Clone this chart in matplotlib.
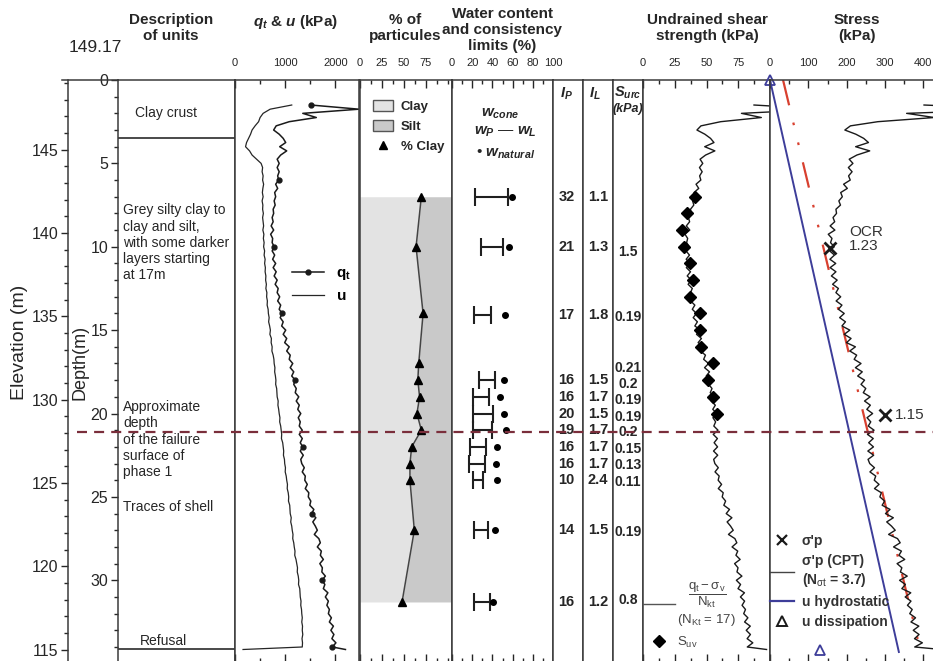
import numpy as np
import matplotlib.pyplot as plt
from matplotlib import transforms
from matplotlib.lines import Line2D
from matplotlib.patches import Patch
from matplotlib.ticker import MultipleLocator, FixedLocator

plt.rcParams['font.family'] = ['Liberation Sans', 'DejaVu Sans']
plt.rcParams['mathtext.fontset'] = 'custom'
plt.rcParams['mathtext.rm'] = 'Liberation Sans'
plt.rcParams['mathtext.it'] = 'Liberation Sans:italic:bold'
plt.rcParams['mathtext.bf'] = 'Liberation Sans:bold'

INK = '#262626'
SPINE = '#3a3a3a'
CLAY_C = '#e3e3e3'
SILT_C = '#c9c9c9'
BLUE = '#3d3d99'
RED = '#d8402f'
DASH_RED = '#7a2e3b'

TOP_ELEVATION = 149.17
DEPTH_MAX = 34.9
CRUST_BASE = 3.5
FAILURE_DEPTH = 21.1
REFUSAL_DEPTH = 34.15
UNIT_WEIGHT = 16.0   # kN/m3, total vertical stress
N_KT = 17
N_SIGMA_T = 3.7

# CPTu sounding, one reading every 0.25 m from 1.5 m, last one at refusal
cpt_depth = np.append(np.arange(1.5, 34.01, 0.25), REFUSAL_DEPTH)
qt = [1510, 2470,
      1350, 1620, 1080, 820,
      770, 880, 960, 1010,
      890, 1030, 910, 840,
      880, 840, 880, 850,
      870, 810, 850, 790,
      810, 780, 800, 760,
      770, 740, 760, 720,
      770, 710, 750, 740,
      780, 740, 790, 750,
      810, 760, 820, 780,
      840, 800, 860, 840,
      890, 850, 910, 880,
      940, 900, 960, 930,
      1010, 960, 1030, 990,
      1080, 1030, 1100, 1080,
      1150, 1100, 1170, 1130,
      1200, 1170, 1220, 1200,
      1270, 1220, 1280, 1250,
      1310, 1260, 1300, 1280,
      1340, 1280, 1340, 1300,
      1350, 1300, 1360, 1310,
      1330, 1380, 1340, 1400,
      1390, 1440, 1400, 1470,
      1460, 1510, 1490, 1570,
      1530, 1610, 1550, 1600,
      1640, 1580, 1670, 1700,
      1640, 1720, 1700, 1760,
      1690, 1740, 1730, 1800,
      1730, 1790, 1760, 1850,
      1800, 1860, 1830, 1880,
      1860, 1920, 1880, 1960,
      1910, 1970, 1930, 2010,
      1940, 2200]
u2 = [1130, 700,
      560, 500, 470, 400,
      340, 310, 270, 230,
      210, 290, 340, 430,
      520, 550, 540, 560,
      550, 570, 555, 545,
      560, 540, 555, 550,
      565, 550, 560, 570,
      555, 575, 565, 580,
      570, 590, 580, 600,
      590, 605, 600, 615,
      610, 625, 615, 635,
      630, 645, 640, 660,
      665, 680, 670, 690,
      705, 695, 725, 720,
      740, 735, 760, 775,
      780, 795, 790, 805,
      815, 810, 830, 835,
      840, 860, 855, 870,
      880, 895, 890, 910,
      920, 930, 925, 950,
      960, 970, 965, 985,
      990, 1005, 1000, 1020,
      1030, 1045, 1040, 1060,
      1070, 1065, 1090, 1095,
      1100, 1120, 1110, 1130,
      1140, 1155, 1150, 1170,
      1180, 1195, 1190, 1215,
      1230, 1245, 1240, 1260,
      1270, 1265, 1290, 1295,
      1300, 1315, 1310, 1325,
      1330, 1340, 1330, 1345,
      1340, 1350, 1335, 1345,
      1340, 160]
qt_dot_depths = [1.5, 6, 10, 14, 18, 22, 26, 30, 34]

# grain size
clay_depth = [7.0, 10.0, 14.0, 17.0, 18.0, 19.0, 20.0, 21.0, 22.0, 23.0, 24.0, 27.0, 31.3]
clay_pct = [70, 64, 72, 67, 66, 68, 65, 70, 59, 57, 57, 62, 48]

# Atterberg limits and natural water content
wc_depth = [7.0, 10.0, 14.1, 18.0, 19.0, 20.0, 21.0, 22.0, 23.0, 24.0, 27.0, 31.3]
w_p = [23, 29, 22, 27, 21, 21, 21, 18, 17, 21, 22, 22]
w_l = [55, 50, 39, 43, 37, 41, 40, 34, 33, 31, 36, 38]
w_nat = [59, 56, 52, 51, 48, 51, 53, 45, 44, 45, 43, 41]
ip = [32, 21, 17, 16, 16, 20, 19, 16, 16, 10, 14, 16]
il = [1.1, 1.3, 1.8, 1.5, 1.7, 1.5, 1.7, 1.7, 1.7, 2.4, 1.5, 1.2]

surc_depth = [10.3, 14.2, 17.3, 18.2, 19.2, 20.2, 21.1, 22.1, 23.1, 24.1, 27.1, 31.2]
surc = [1.5, 0.19, 0.21, 0.2, 0.19, 0.19, 0.2, 0.15, 0.13, 0.11, 0.19, 0.8]

# field vane
vane_depth = [7, 8, 9, 10, 11, 12, 13, 14, 15, 16, 17, 18, 19, 20]
su_vane = [41, 35, 31, 32, 37, 39, 37, 45, 45, 46, 55, 51, 55, 58]

# oedometer preconsolidation pressure and OCR
oed_depth = [10.05, 20.1]
sigma_p = [156, 299]
ocr = [1.23, 1.15]

hydro_depth = [0, 34.3]
hydro_u = [0, 336]
trend_depth = [0, 34.0]
trend_sigma_p = [34, 390]
diss_depth = [0, 34.2]
diss_u = [0, 130]

qt_arr = np.array(qt, dtype=float)
net_qt = qt_arr - UNIT_WEIGHT * cpt_depth
su_cpt = net_qt / N_KT
sigma_p_cpt = net_qt / N_SIGMA_T

W, H = 933, 661
TOP_PX, BOTTOM_PX = 80, 662
fig = plt.figure(figsize=(W / 100, H / 100), dpi=100)


def add_panel(x0, x1, xlim=None, major=None, minor=None):
    ax = fig.add_axes([x0 / W, 1 - BOTTOM_PX / H, (x1 - x0) / W, (BOTTOM_PX - TOP_PX) / H])
    ax.set_ylim(DEPTH_MAX, 0)
    ax.tick_params(axis='y', which='both', left=False, right=False, labelleft=False)
    for s in ax.spines.values():
        s.set_color(SPINE)
        s.set_linewidth(1.1)
    if xlim is None:
        ax.set_xticks([])
        return ax
    ax.set_xlim(*xlim)
    ax.xaxis.set_major_locator(FixedLocator(major))
    ax.xaxis.set_minor_locator(FixedLocator(minor))
    ax.xaxis.set_ticks_position('both')
    ax.tick_params(axis='x', which='both', direction='in', labeltop=True, labelbottom=False,
                   labelsize=8, pad=9, colors=INK, width=1)
    ax.tick_params(axis='x', which='major', length=6)
    ax.tick_params(axis='x', which='minor', length=3)
    return ax


def yblend(ax):
    return transforms.blended_transform_factory(ax.transAxes, ax.transData)


ax_desc = add_panel(118, 235)
ax_qt = add_panel(235, 359, (0, 2470), [0, 1000, 2000], [500, 1500])
ax_gs = add_panel(360, 452, (0, 105), [0, 25, 50, 75], [12.5, 37.5, 62.5, 87.5, 100])
ax_wc = add_panel(452, 553, (0, 100), list(range(0, 101, 20)), list(range(10, 100, 20)))
ax_ip = add_panel(553, 583)
ax_il = add_panel(583, 613)
ax_surc = add_panel(613, 643)
ax_su = add_panel(643, 770, (0, 100), [0, 25, 50, 75], [12.5, 37.5, 62.5, 87.5])
ax_st = add_panel(770, 933, (0, 425), [0, 100, 200, 300, 400], [50, 150, 250, 350])
ax_st.spines['right'].set_visible(False)

# depth axis
ax_desc.yaxis.set_major_locator(MultipleLocator(5))
ax_desc.yaxis.set_minor_locator(MultipleLocator(1))
ax_desc.tick_params(axis='y', which='both', left=True, labelleft=True, direction='out',
                    colors=INK, labelsize=11.5, pad=2)
ax_desc.tick_params(axis='y', which='major', length=5, width=1)
ax_desc.tick_params(axis='y', which='minor', length=3, width=1)

# elevation axis
ax_el = ax_desc.twinx()
ax_el.set_ylim(TOP_ELEVATION - DEPTH_MAX, TOP_ELEVATION)
for side in ['right', 'top', 'bottom']:
    ax_el.spines[side].set_visible(False)
ax_el.spines['left'].set_visible(True)
ax_el.spines['left'].set_position(('outward', 36))
ax_el.spines['left'].set_color(SPINE)
ax_el.spines['left'].set_linewidth(1.1)
ax_el.yaxis.set_ticks_position('left')
ax_el.yaxis.set_major_locator(FixedLocator([115, 120, 125, 130, 135, 140, 145]))
ax_el.yaxis.set_minor_locator(MultipleLocator(1))
ax_el.tick_params(axis='y', which='both', direction='out', colors=INK, labelsize=11.5, pad=2)
ax_el.tick_params(axis='y', which='major', length=5, width=1)
ax_el.tick_params(axis='y', which='minor', length=3, width=1)

fig.add_artist(Line2D([62 / W, 118 / W], [1 - TOP_PX / H] * 2, color=SPINE, lw=1.1))
fig.text(95 / W, 1 - 47 / H, f'{TOP_ELEVATION:.2f}', ha='center', va='center',
         fontsize=12.5, color=INK)
fig.text(20 / W, 1 - 342 / H, 'Elevation (m)', rotation=90, ha='center', va='center',
         fontsize=14, color=INK)
fig.text(80 / W, 1 - 362 / H, 'Depth(m)', rotation=90, ha='center', va='center',
         fontsize=13, color=INK)

# column headers
hdr = dict(ha='center', va='center', fontsize=11, weight='bold', color=INK, linespacing=1.2)
fig.text(171 / W, 1 - 28 / H, 'Description\nof units', **hdr)
fig.text(295 / W, 1 - 22 / H, r'$q_t$ & $u$ (kPa)', **hdr)
fig.text(405 / W, 1 - 28 / H, '% of\nparticules', **hdr)
fig.text(502 / W, 1 - 30 / H, 'Water content\nand consistency\nlimits (%)', **hdr)
fig.text(707 / W, 1 - 28 / H, 'Undrained shear\nstrength (kPa)', **hdr)
fig.text(857 / W, 1 - 28 / H, 'Stress\n(kPa)', **hdr)

# description of units
dtxt = dict(fontsize=10, color=INK, transform=yblend(ax_desc), linespacing=1.2)
ax_desc.axhline(CRUST_BASE, color=SPINE, lw=1.3)
ax_desc.axhline(REFUSAL_DEPTH, color=SPINE, lw=1.3)
ax_desc.text(0.145, 1.98, 'Clay crust', va='center', **dtxt)
ax_desc.text(0.043, 7.4, 'Grey silty clay to\nclay and silt,\nwith some darker\nlayers starting\nat 17m',
             va='top', **dtxt)
ax_desc.text(0.043, 19.2, 'Approximate\ndepth\nof the failure\nsurface of\nphase 1', va='top', **dtxt)
ax_desc.text(0.043, 25.6, 'Traces of shell', va='center', **dtxt)
ax_desc.text(0.19, 33.65, 'Refusal', va='center', **dtxt)

# qt and u
dot_idx = [int(round((d - 1.5) / 0.25)) for d in qt_dot_depths]
ax_qt.plot(u2, cpt_depth, color=INK, lw=0.9)
ax_qt.plot(qt, cpt_depth, color='#1a1a1a', lw=1.1, marker='o', ms=3.5, markevery=dot_idx)
ax_qt.legend([Line2D([], [], color='#1a1a1a', lw=1.1, marker='o', ms=3.5),
              Line2D([], [], color=INK, lw=0.9)],
             [r'$\mathbf{q_t}$', r'$\mathbf{u}$'], loc='upper left', bbox_to_anchor=(0.46, 0.68),
             frameon=False, fontsize=11, handlelength=2.1, handletextpad=0.8,
             labelspacing=0.45, borderpad=0, borderaxespad=0)

# grain size
ax_gs.fill_betweenx(clay_depth, 0, clay_pct, color=CLAY_C, lw=0)
ax_gs.fill_betweenx(clay_depth, clay_pct, 105, color=SILT_C, lw=0)
ax_gs.plot(clay_pct, clay_depth, color='#444444', lw=1.1, marker='^', ms=6,
           mfc='black', mec='black')
leg = ax_gs.legend([Patch(fc=CLAY_C, ec='#555555', lw=1), Patch(fc=SILT_C, ec='#555555', lw=1),
                    Line2D([], [], ls='none', marker='^', ms=6, color='black')],
                   ['Clay', 'Silt', '% Clay'], loc='upper left', bbox_to_anchor=(0.14, 0.965),
                   frameon=False, prop=dict(size=9.5, weight='bold'), handlelength=1.5,
                   handleheight=0.9, handletextpad=0.6, labelspacing=0.5, borderpad=0,
                   borderaxespad=0)
for t in leg.get_texts():
    t.set_color(INK)

# water content
wp_arr, wl_arr = np.array(w_p, float), np.array(w_l, float)
ax_wc.errorbar((wp_arr + wl_arr) / 2, wc_depth, xerr=(wl_arr - wp_arr) / 2, fmt='none',
               ecolor='#1f1f1f', elinewidth=1.5, capsize=6.5, capthick=1.5)
ax_wc.plot(w_nat, wc_depth, 'o', color='black', ms=4)
wtxt = dict(ha='center', va='center', fontsize=11, color=INK, transform=yblend(ax_wc))
ax_wc.text(0.475, 2.0, r'$w_{cone}$', **wtxt)
ax_wc.text(0.525, 3.1, r'$w_P$ — $w_L$', **wtxt)
ax_wc.text(0.53, 4.4, r'• $w_{natural}$', **wtxt)

# Ip, IL and remoulded strength columns
ctxt = dict(ha='center', va='center', fontsize=10.5, weight='bold', color=INK)
ax_ip.text(0.45, 0.8, r'$I_P$', transform=yblend(ax_ip), **ctxt)
ax_il.text(0.4, 0.8, r'$I_L$', transform=yblend(ax_il), **ctxt)
ax_surc.text(0.5, 0.75, r'$S_{urc}$', transform=yblend(ax_surc), **ctxt)
ax_surc.text(0.5, 1.75, '(kPa)', transform=yblend(ax_surc), style='italic',
             **dict(ctxt, fontsize=9))
for d, v in zip(wc_depth, ip):
    ax_ip.text(0.45, d, f'{v}', transform=yblend(ax_ip), **ctxt)
for d, v in zip(wc_depth, il):
    ax_il.text(0.5, d, f'{v:.1f}', transform=yblend(ax_il), **ctxt)
for d, v in zip(surc_depth, surc):
    ax_surc.text(0.5, d, f'{v}', transform=yblend(ax_surc), **dict(ctxt, fontsize=10))

# undrained shear strength
ax_su.plot(su_cpt, cpt_depth, color='#1a1a1a', lw=1.0)
ax_su.plot(su_vane, vane_depth, ls='none', marker='D', ms=6, color='black')
leg = ax_su.legend([Line2D([], [], color='#555555', lw=1.0),
                    Line2D([], [], ls='none', marker='D', ms=6, color='black')],
                   [r'$\dfrac{\mathrm{q_t-\sigma_v}}{\mathrm{N_{kt}}}$' + '\n' + r'(N$_{\mathrm{Kt}}$ = 17)',
                    r'$\mathrm{S_{uv}}$'],
                   loc='upper left', bbox_to_anchor=(0.0, 0.14), frameon=False, fontsize=9.5,
                   handlelength=2.4, handletextpad=0.2, labelspacing=0.5, borderpad=0,
                   borderaxespad=0)
for t in leg.get_texts():
    t.set_color('#444444')
    t.set_multialignment('center')

# stresses
ax_st.plot(hydro_u, hydro_depth, color=BLUE, lw=1.4)
ax_st.plot(trend_sigma_p, trend_depth, color=RED, lw=1.6,
           dashes=[11.7, 8, 1.2, 8, 1.2, 8])
ax_st.plot(sigma_p_cpt, cpt_depth, color='#1a1a1a', lw=1.0)
ax_st.plot(sigma_p, oed_depth, ls='none', marker='x', ms=8, mew=2, color='#1a1a1a')
ax_st.plot(diss_u, diss_depth, ls='none', marker='^', ms=7, mfc='none', mec=BLUE, mew=1.3,
           clip_on=False)
ax_st.annotate(f'OCR\n{ocr[0]:.2f}', (sigma_p[0], oed_depth[0]), xytext=(14, 6),
               textcoords='offset points', va='center', ha='left', fontsize=11, color='#333333',
               linespacing=1.0)
ax_st.annotate(f'{ocr[1]:.2f}', (sigma_p[1], oed_depth[1]), xytext=(7, 0),
               textcoords='offset points', va='center', ha='left', fontsize=11, color='#333333')
leg = ax_st.legend([Line2D([], [], ls='none', marker='x', ms=7, mew=1.6, color='#1a1a1a'),
                    Line2D([], [], color='#444444', lw=1.0),
                    Line2D([], [], color=BLUE, lw=1.6),
                    Line2D([], [], ls='none', marker='^', ms=7, mfc='none', mec='#1a1a1a',
                           mew=1.4)],
                   ["σ'p", "σ'p (CPT)\n" + r"(N$_{\mathrm{\sigma t}}$ = 3.7)", 'u hydrostatic',
                    'u dissipation'],
                   loc='upper left', bbox_to_anchor=(0.0, 0.22), frameon=False,
                   prop=dict(size=10, weight='bold'), handlelength=1.7, handletextpad=0.6,
                   labelspacing=0.45, borderpad=0, borderaxespad=0)
for t in leg.get_texts():
    t.set_color('#333333')

# approximate failure surface of phase 1
fig.add_artist(Line2D([77 / W, 1.0], [FAILURE_DEPTH] * 2,
                      transform=transforms.blended_transform_factory(fig.transFigure,
                                                                     ax_desc.transData),
                      color=DASH_RED, lw=1.6, dashes=(4.5, 3.2)))

fig.savefig('out.png', dpi=100)
